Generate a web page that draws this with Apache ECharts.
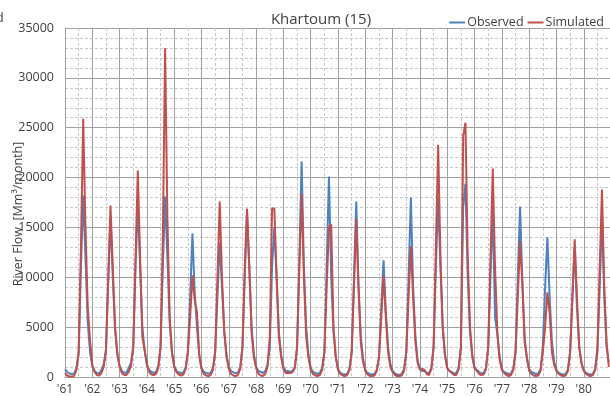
<!DOCTYPE html>
<html>
<head>
<meta charset="utf-8">
<script src="https://cdn.jsdelivr.net/npm/echarts@6/dist/echarts.min.js"></script>
<style>
html, body { margin: 0; padding: 0; background: #fff; }
#chart { width: 610px; height: 396px; }
</style>
</head>
<body>
<div id="chart"></div>
<script>
// first year of the record, one row of 12 monthly values (Jan..Dec) per year
var startYear = 1961;
var yearLabels = ["'61", "'62", "'63", "'64", "'65", "'66", "'67", "'68", "'69", "'70",
    "'71", "'72", "'73", "'74", "'75", "'76", "'77", "'78", "'79", "'80"];

// observed monthly flow [Mm3/month]
var observed = [
    [800, 500, 350, 300, 350, 900, 2300, 11000, 18200, 12000, 5500, 2500],
    [1100, 600, 400, 350, 700, 1300, 2800, 9500, 16000, 10000, 4800, 2300],
    [1100, 600, 450, 400, 900, 1400, 3000, 11000, 17500, 11000, 5000, 2700],
    [1200, 700, 500, 400, 500, 1100, 3000, 11000, 18100, 12000, 5500, 2500],
    [1100, 600, 450, 400, 450, 900, 2500, 8000, 14400, 8500, 5000, 2200],
    [900, 500, 400, 350, 400, 900, 2500, 8000, 13500, 9000, 4500, 2200],
    [1000, 600, 450, 400, 450, 1000, 3000, 10000, 16500, 11000, 5000, 2300],
    [1000, 600, 500, 400, 600, 1200, 3000, 11000, 15000, 10000, 4500, 2200],
    [1000, 600, 600, 500, 600, 1000, 3000, 12000, 21600, 11000, 5000, 2200],
    [900, 500, 400, 300, 400, 900, 2500, 11000, 20100, 10000, 4500, 2000],
    [800, 400, 300, 250, 300, 800, 2500, 10000, 17600, 9000, 4000, 1800],
    [700, 400, 300, 250, 300, 700, 2000, 7000, 11700, 6500, 3000, 1300],
    [600, 350, 250, 200, 300, 800, 2500, 10000, 18000, 9000, 4000, 1600],
    [800, 600, 600, 400, 400, 900, 3000, 11000, 18000, 11000, 5000, 2200],
    [900, 600, 500, 350, 400, 900, 3000, 17000, 19400, 10000, 4500, 2000],
    [900, 700, 500, 350, 400, 900, 3000, 10000, 16800, 6000, 4300, 2000],
    [800, 500, 400, 300, 350, 800, 2500, 10000, 17100, 9500, 4000, 1800],
    [800, 500, 400, 300, 350, 800, 3000, 9000, 14000, 8000, 3500, 1500],
    [700, 400, 300, 250, 300, 700, 2500, 8000, 13000, 7000, 3000, 1400],
    [700, 400, 300, 250, 300, 800, 2500, 9000, 16000, 8000, 3000, 1500]
];

// simulated monthly flow [Mm3/month]
var simulated = [
    [400, 150, 50, 50, 100, 700, 2500, 13000, 25900, 15000, 7000, 3700],
    [1200, 500, 200, 150, 400, 1000, 2500, 10000, 17200, 11000, 5000, 2400],
    [1000, 400, 200, 200, 500, 1100, 3000, 12000, 20700, 12000, 4000, 2700],
    [1300, 500, 250, 200, 300, 900, 3000, 14000, 33000, 16000, 6000, 2500],
    [1000, 500, 250, 150, 250, 800, 2500, 6000, 10200, 7700, 6500, 2200],
    [800, 300, 150, 100, 200, 700, 2500, 10000, 17600, 10000, 4500, 2000],
    [800, 300, 150, 100, 200, 800, 3000, 11000, 16900, 11000, 4500, 2000],
    [900, 300, 150, 100, 300, 1000, 4000, 16900, 16900, 10000, 4000, 2000],
    [800, 400, 400, 400, 500, 900, 3000, 11000, 18400, 10000, 4000, 2000],
    [700, 300, 150, 100, 200, 700, 2500, 9000, 15000, 15300, 5000, 2000],
    [700, 300, 150, 100, 200, 700, 2500, 9000, 15900, 9000, 3500, 1500],
    [600, 250, 100, 100, 150, 600, 2000, 6000, 10200, 6000, 2500, 1000],
    [500, 200, 100, 100, 150, 600, 2500, 8000, 13100, 8000, 3500, 1400],
    [700, 800, 700, 300, 200, 800, 3000, 13000, 23300, 12000, 5000, 2200],
    [900, 600, 400, 200, 200, 800, 3000, 24200, 25500, 12000, 5000, 2200],
    [900, 600, 300, 200, 250, 800, 3000, 12000, 20900, 11000, 4500, 1800],
    [700, 400, 200, 100, 200, 700, 2500, 8000, 13600, 9400, 3500, 2000],
    [600, 300, 150, 100, 150, 600, 2500, 5000, 8500, 6400, 2500, 1200],
    [600, 300, 150, 100, 150, 600, 2500, 8000, 13800, 8000, 3000, 1300],
    [600, 300, 150, 100, 200, 700, 3000, 11000, 18800, 9000, 3500, 1000]
];

// turn the year rows into [decimal year, value] points
function toPoints(rows) {
    var list = [];
    rows.forEach(function (row, y) {
        row.forEach(function (v, m) {
            list.push([startYear + y + m / 12, v]);
        });
    });
    return list;
}

var gridColor = "#a0a0a0";
var minorColor = "#c8c8c8";
var textColor = "#404040";
var font = "'Open Sans', 'Liberation Sans', sans-serif";

var myChart = echarts.init(document.getElementById("chart"));
myChart.setOption({
    animation: false,
    textStyle: { fontFamily: font },
    title: {
        text: "Khartoum (15)",
        left: 316,
        top: 7,
        textAlign: "center",
        textStyle: { fontSize: 15, fontWeight: "normal", color: textColor, fontFamily: font }
    },
    legend: {
        right: 1,
        top: 11,
        itemWidth: 16,
        itemHeight: 2,
        itemGap: 4,
        icon: "rect",
        textStyle: { fontSize: 12.5, color: textColor, padding: [0, 0, 0, -3] },
        data: ["Observed", "Simulated"]
    },
    grid: { left: 65, right: 0, top: 28, bottom: 19 },
    xAxis: {
        type: "value",
        min: startYear,
        max: 1980.96,
        interval: 1,
        axisLine: { show: true, lineStyle: { color: gridColor } },
        axisTick: { show: false },
        axisLabel: {
            color: textColor,
            fontSize: 12,
            margin: 7,
            showMaxLabel: false,
            formatter: function (v) {
                return yearLabels[Math.round(v - startYear)] || "";
            }
        },
        splitLine: { show: true, lineStyle: { color: gridColor, width: 1 } },
        minorTick: { show: false, splitNumber: 2 },
        minorSplitLine: { show: true, lineStyle: { color: minorColor, type: [3, 2], width: 1 } }
    },
    yAxis: {
        type: "value",
        min: 0,
        max: 35000,
        interval: 5000,
        axisLine: { show: true, lineStyle: { color: gridColor } },
        axisTick: { show: false },
        axisLabel: {
            color: textColor,
            fontSize: 12.5,
            margin: 11,
            formatter: function (v) {
                return String(v);
            }
        },
        splitLine: { show: true, lineStyle: { color: gridColor, width: 1 } },
        minorTick: { show: false, splitNumber: 5 },
        minorSplitLine: { show: true, lineStyle: { color: minorColor, type: [3, 2], width: 1 } }
    },
    graphic: [{
        // y axis title, sits over the tick labels like in the original
        type: "text",
        x: 18,
        y: 214,
        rotation: Math.PI / 2,
        style: {
            text: "River Flow  [Mm³/month]",
            fill: textColor,
            font: "12.5px " + font,
            textAlign: "center",
            textVerticalAlign: "middle"
        }
    }, {
        // cut-off end of the neighbouring chart's legend
        type: "text",
        x: -4,
        y: 12,
        style: { text: "d", fill: textColor, font: "12.5px " + font }
    }],
    series: [{
        name: "Observed",
        type: "line",
        showSymbol: false,
        color: "#4f81bd",
        lineStyle: { width: 2, color: "#4f81bd" },
        data: toPoints(observed)
    }, {
        name: "Simulated",
        type: "line",
        showSymbol: false,
        color: "#c0504d",
        lineStyle: { width: 2, color: "#c0504d" },
        data: toPoints(simulated)
    }]
});
</script>
</body>
</html>
